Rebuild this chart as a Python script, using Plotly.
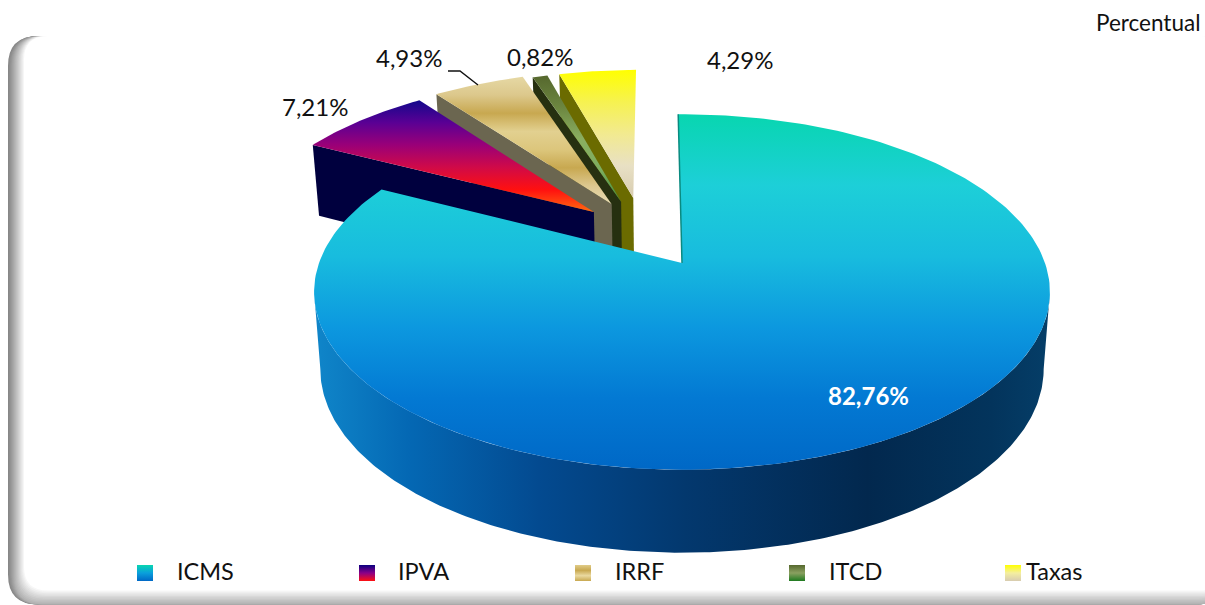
import numpy as np
import plotly.graph_objects as go

# ---------- data ----------
categories = ["ICMS", "IPVA", "IRRF", "ITCD", "Taxas"]
values = [82.76, 7.21, 4.93, 0.82, 4.29]
value_labels = ["82,76%", "7,21%", "4,93%", "0,82%", "4,29%"]
unit_label = "Percentual"

# ---------- look: slice explosion in the pie plane, and gradients ----------
explode = {"ICMS": (0, 0), "IPVA": (-.255, .31), "IRRF": (-.205, .36),
           "ITCD": (-.178, .375), "Taxas": (-.143, .40)}
radius = {"ICMS": 1, "IPVA": 1.0, "IRRF": 1.0, "ITCD": .98, "Taxas": .965}
top_stops = {
    "ICMS": ["#08d6b0", "#1dcfd8", "#18bcde", "#0c98df", "#0379d3", "#0068c6"],
    "IPVA": ["#12088c", "#5a0094", "#9a0078", "#d00a48", "#ff1010", "#ff6a10"],
    "IRRF": ["#e6d8a4", "#dcc88c", "#c8a850", "#e2d090", "#dcc67c", "#c8a850", "#dcc890", "#e8dcb4"],
    "ITCD": ["#56682e", "#6c8640", "#8aae60", "#7cae60", "#3c8c40"],
    "Taxas": ["#ffff00", "#f6f250", "#f2ea90", "#e8e0c4", "#d8ccb0"],
}
side_colors = {"IPVA": "#00003e", "IRRF": "#6b6650", "ITCD": "#263010", "Taxas": "#6b6b00"}
icms_side = [[0, "#0f84c8"], [.12, "#0468b4"], [.3, "#034a90"], [.5, "#03386e"],
             [.75, "#02284e"], [.92, "#03345c"], [1, "#053e68"]]
swatch_stops = {
    "ICMS": ["#08d6b0", "#0a9fdc", "#0068c6"],
    "IPVA": ["#0a0080", "#8a0088", "#ff1010"],
    "IRRF": ["#e0cc88", "#c8a850", "#ead9a0", "#c8a850"],
    "ITCD": ["#56682e", "#8aa060", "#1f7a20"],
    "Taxas": ["#ffff00", "#f4eea0", "#d8ccb0"],
}
label_pos = {"ICMS": (868, 395), "IPVA": (315, 106), "IRRF": (409, 57),
             "ITCD": (540, 56), "Taxas": (740, 59)}
swatch_x = {"ICMS": 137, "IPVA": 359, "IRRF": 575, "ITCD": 789, "Taxas": 1005}
text_x = {"ICMS": 175, "IPVA": 396, "IRRF": 613, "ITCD": 827, "Taxas": 1024}
FONT = "Lato, Carlito, Calibri, sans-serif"

# ---------- perspective projection of the pie plane ----------
CX, CY, RX, RY, K = 682.0, 263.0, 363.0, 173.0, 0.163
START = -0.7


def project(X, Y):
    s = 1 / (1 + K * Y)
    return CX + RX * X * s, CY - RY * Y * s


def drop(x, y, Y):
    return CX + (x - CX) * 0.983, y + 76 - 7 * Y


def ramp(stops):
    return [[i / (len(stops) - 1), c] for i, c in enumerate(stops)]


fig = go.Figure()


def poly(x, y, grad=None, color=None):
    kw = dict(fillcolor=color) if color else dict(fillgradient=grad)
    fig.add_trace(go.Scatter(x=x, y=y, mode="lines", fill="toself", line=dict(width=0),
                             hoverinfo="skip", showlegend=False, **kw))


total = sum(values)
angles = {}
a = START
for c, v in zip(categories, values):
    angles[c] = (a, a + v / total * 360)
    a += v / total * 360

for c in reversed(categories):
    a0, a1 = angles[c]
    ex, ey = explode[c]
    t = np.radians(np.linspace(a0, a1, 240 if c == "ICMS" else 40))
    X, Y = radius[c] * np.sin(t) + ex, radius[c] * np.cos(t) + ey
    x, y = project(X, Y)
    ax, ay = project(ex, ey)
    if c == "ICMS":
        # outer wall, between the two silhouette tangents of the disc
        tangent = np.degrees(np.arccos(-K))
        tw = np.radians(np.linspace(tangent, 360 - tangent, 240))
        Xw, Yw = np.sin(tw), np.cos(tw)
        xw, yw = project(Xw, Yw)
        xb, yb = drop(xw, yw, Yw)
        poly(np.r_[xw, xb[::-1]], np.r_[yw, yb[::-1]],
             grad=dict(type="horizontal", colorscale=icms_side, start=float(xb.min()), stop=float(xw.max())))
    else:
        # visible radial wall at the slice's leading edge
        ox, oy = x[0], y[0]
        bx0, by0 = drop(ax, ay, ey)
        bx1, by1 = drop(ox, oy, Y[0])
        poly([ax, ox, bx1, bx0], [ay, oy, by1, by0], color=side_colors[c])
    poly(np.r_[ax, x], np.r_[ay, y],
         grad=dict(type="vertical", colorscale=ramp(top_stops[c]), start=float(y.min()), stop=float(max(y.max(), ay))))
    if c == "ICMS":
        fig.add_trace(go.Scatter(x=[x[0], ax], y=[y[0], ay], mode="lines",
                                 line=dict(color="#0a8a80", width=1.5), hoverinfo="skip", showlegend=False))

# leader line of IRRF
fig.add_trace(go.Scatter(x=[448, 460, 478], y=[71, 71, 85], mode="lines",
                         line=dict(color="#111111", width=1.4), hoverinfo="skip", showlegend=False))

# legend swatches
for c in categories:
    sx = swatch_x[c]
    poly([sx, sx + 16, sx + 16, sx], [565, 565, 581, 581],
         grad=dict(type="vertical", colorscale=ramp(swatch_stops[c]), start=565, stop=581))

# texts
ann = []
for c, lab in zip(categories, value_labels):
    lx, ly = label_pos[c]
    bold = c == "ICMS"
    ann.append(dict(x=lx, y=ly, text=f"<b>{lab}</b>" if bold else lab, showarrow=False,
                    xanchor="center", yanchor="middle",
                    font=dict(family=FONT, size=24, color="#ffffff" if bold else "#111111")))
    ann.append(dict(x=text_x[c], y=571, text=c, showarrow=False, xanchor="left", yanchor="middle",
                    font=dict(family=FONT, size=23.5, color="#111111")))
ann.append(dict(x=1202, y=22, text=unit_label, showarrow=False, xanchor="right", yanchor="middle",
                font=dict(family=FONT, size=22.5, color="#111111")))

# rounded frame with soft shadow on the left and bottom
shapes = []
N = 18


def rrect(l, t, r, b, rad):
    return (f"M{l + rad},{t} L{r - rad},{t} Q{r},{t} {r},{t + rad} L{r},{b - rad} Q{r},{b} {r - rad},{b} "
            f"L{l + rad},{b} Q{l},{b} {l},{b - rad} L{l},{t + rad} Q{l},{t} {l + rad},{t} Z")


for i in range(N):
    f = i / (N - 1)
    g = int(135 + 120 * f ** 1.1)
    col = f"rgb({g},{g},{g})"
    l = 8 + 16 * f
    b = 604.5 - 14 * max(0.0, (f - .4) / .6)
    shapes.append(dict(type="path", path=rrect(l, 36, 1225, b, 30 - 6 * f), xref="x", yref="y",
                       fillcolor=col, line=dict(width=0), layer="below"))

fig.update_layout(
    width=1205, height=605, margin=dict(l=0, r=0, t=0, b=0, pad=0),
    paper_bgcolor="#ffffff", plot_bgcolor="#ffffff", showlegend=False,
    xaxis=dict(range=[0, 1205], visible=False, fixedrange=True),
    yaxis=dict(range=[605, 0], visible=False, fixedrange=True),
    annotations=ann, shapes=shapes,
)
fig.write_html("out.html", post_script="document.body.style.margin='0';document.body.style.overflow='hidden';",
               config={"displayModeBar": False})
